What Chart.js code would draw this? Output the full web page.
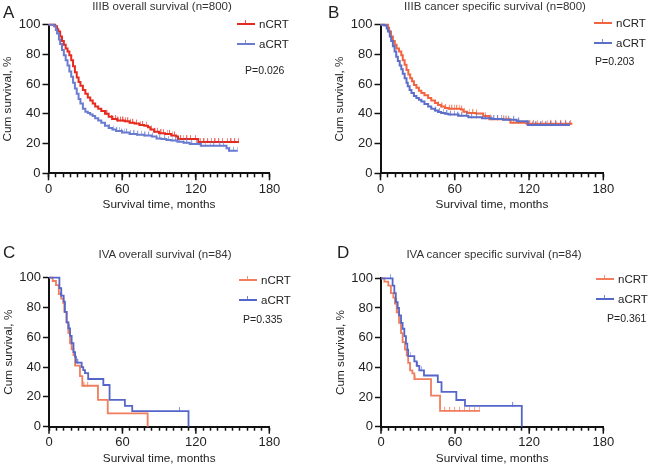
<!DOCTYPE html>
<html><head><meta charset="utf-8">
<script src="https://cdn.jsdelivr.net/npm/chart.js@4.4.1/dist/chart.umd.min.js"></script>
<style>
html,body{margin:0;padding:0;background:#fff}
body{width:649px;height:467px;overflow:hidden;position:relative;font-family:"Liberation Sans",Arial,Helvetica,sans-serif;color:#222}
canvas{position:absolute}
.t{position:absolute;white-space:nowrap;line-height:1}
.c{transform:translate(-50%,-50%)}
.v{transform:translateY(-50%)}
.letter{font-size:17px}
.title{font-size:11.5px;color:#333}
.p{font-size:10.5px}
.leg{position:absolute;transform:translateY(-50%);display:flex;align-items:center;font-size:11.5px;white-space:nowrap}
.leg .ln{position:relative;width:18px;height:2px;margin-right:4px}
.leg .ln::after{content:"";position:absolute;left:8px;top:-3px;width:1px;height:4px;background:inherit;opacity:.8}
</style></head><body>
<canvas id="cA" width="325" height="215" style="left:0;top:0"></canvas>
<canvas id="cB" width="324" height="215" style="left:325px;top:0"></canvas>
<canvas id="cC" width="325" height="237" style="left:0;top:230px"></canvas>
<canvas id="cD" width="324" height="237" style="left:325px;top:230px"></canvas>

<div class="t letter" style="left:3px;top:4px">A</div>
<div class="t title c" style="left:162px;top:7px">IIIB overall survival (n=800)</div>
<div class="leg" style="left:237px;top:24px"><span class="ln" style="background:#e62a1f"></span>nCRT</div>
<div class="leg" style="left:237px;top:44px"><span class="ln" style="background:#6a7cd0"></span>aCRT</div>
<div class="t p v" style="left:245px;top:70px">P=0.026</div>

<div class="t letter" style="left:328px;top:4px">B</div>
<div class="t title c" style="left:495px;top:7px">IIIB cancer specific survival (n=800)</div>
<div class="leg" style="left:594px;top:23px"><span class="ln" style="background:#f2643f"></span>nCRT</div>
<div class="leg" style="left:594px;top:43px"><span class="ln" style="background:#5d6ec8"></span>aCRT</div>
<div class="t p v" style="left:595px;top:61px">P=0.203</div>

<div class="t letter" style="left:3px;top:244px">C</div>
<div class="t title c" style="left:165px;top:255px">IVA overall survival (n=84)</div>
<div class="leg" style="left:239px;top:280px"><span class="ln" style="background:#f07e5e"></span>nCRT</div>
<div class="leg" style="left:239px;top:300px"><span class="ln" style="background:#5566c9"></span>aCRT</div>
<div class="t p v" style="left:243px;top:319px">P=0.335</div>

<div class="t letter" style="left:337px;top:244px">D</div>
<div class="t title c" style="left:494px;top:255px">IVA cancer specific survival (n=84)</div>
<div class="leg" style="left:596px;top:279px"><span class="ln" style="background:#f07e5e"></span>nCRT</div>
<div class="leg" style="left:596px;top:299px"><span class="ln" style="background:#5566c9"></span>aCRT</div>
<div class="t p v" style="left:607px;top:318px">P=0.361</div>

<script>
// ---- tick labels ----
const xTickLabels = [0, 60, 120, 180];
const yTickLabels = [0, 20, 40, 60, 80, 100];
const seriesNames = ['nCRT', 'aCRT'];

// ---- Panel A: IIIB overall survival ----
const A_nCRT_time = [0,4,5.5,7,8,9.5,11,12.5,14,15.5,17,18.5,20,21.5,23,24.5,26,28,30,32,34,36,38,40.5,43,46,49,52,56,62,66,70,74,78,81,83,86,90,95,100,104,105.5,122,155];
const A_nCRT_surv = [100,100,99,97,95.5,92,89,86.5,84,82,79.5,76,72,68,64.5,61.5,59,56,53.5,51,49,47,45,43.5,42,40,38,36.5,35.5,35,34,33.5,32.5,32,31,29.5,28,27,26.5,25.5,24.7,23,21,21];
const A_nCRT_cens = [48,52,55,57,59,61,63,65,67,69,72,75,77,80,84,87,89,92,94,97,99,101,103,108,110,113,116,120,124,127,130,133,136,139,142,146,149,152,155];
const A_aCRT_time = [0,3,4.5,6,7,8.5,9.5,11,12.5,14,15.5,17,18.5,20,21.5,23,24.5,26,28,30,32,34,36,38,40.5,43,46,49,52,55,60,66,72,78,84,88,92,96,100,105,110,115,124,145,147,154];
const A_aCRT_surv = [100,100,99,96.5,94,90,87,83,79.5,76,72.5,68.5,65,61,57,53.5,50,47,43.5,41.5,40.5,39.5,38.5,37,35.5,34,32,30.5,29.5,28.5,27.5,26.5,26,25.5,24.7,23.5,23,22.4,22,21.3,20.5,19.7,18.6,16.8,15.2,15.2];
const A_aCRT_cens = [50,53,56,58,60,62,64,67,70,73,76,79,82,85,88,91,95,98,101,104,107,110,113,117,121,125,128,132,135,140,143,148,151,154];

// ---- Panel B: IIIB cancer specific survival ----
const B_nCRT_time = [0,4.5,6,7,8.5,10,11.5,13,15,16.8,18,19.5,21,22.5,24,25.5,27,29,31,33,35.5,38.5,41,44,46.5,49,52,55,65,67,70,77,83,88,105,118,155];
const B_nCRT_surv = [100,100,98,95.5,92,89,86.5,84,82,79.5,76,73,69.5,66.5,64,62,59.5,57.5,55.5,54,52.5,50.7,49,47.3,46,45,44,43.5,43,41.5,40.6,40.3,38.5,36.3,34,33.3,33.3];
const B_nCRT_cens = [47,50,53,56,58,60,62,64,66,68,72,75,78,85,90,95,100,102,108,112,118,121,124,127,131,135,138,142,146,150,154];
const B_aCRT_time = [0,3,5,6,7.5,8.6,10,11.4,12.7,14,15.5,16.8,18,19.5,21,22,23.5,25,27,29,31,33,35.5,38.5,41,44,46.5,49,52,55,63,71,82,90,99,110,119,153];
const B_aCRT_surv = [100,99.5,97.5,95.5,92,89,85.5,82,78.5,75.5,72.5,70,67,64,61,58.5,56,54,52,50.7,49.5,48.4,46.7,45,43.5,42.2,41.3,40.6,40,39.5,38.8,37.7,37,36.5,36,35,32.5,32.5];
const B_aCRT_cens = [45,48,51,54,57,60,63,66,70,74,78,85,89,92,95,98,101,104,108,112,120,123,126,130,134,138,142,146,150,153];

// ---- Panel C: IVA overall survival ----
const C_nCRT_time = [0,3,5.7,8,10,11.7,12.5,14.4,15.8,17.2,18.5,20,21.3,25.3,27.2,40,48,80.6];
const C_nCRT_surv = [100,97.8,95,89,86,83,77,70,63,56,52,48,41,34,27.5,18,9,0];
const C_nCRT_cens = [13,16,19,29,32];
const C_aCRT_time = [0,8.5,10,12,13,14.4,15.8,17.2,18.5,20,21.3,22,26.7,28,29.4,32,44.4,49.5,62,68,114];
const C_aCRT_surv = [100,93,88,84,77,70,66,61,56,50,47,43,40,38,36,32,28,18,14,10.5,0];
const C_aCRT_cens = [10,12,17,24,27,107];

// ---- Panel D: IVA cancer specific survival ----
const D_nCRT_time = [0,2.7,5.9,8,10,11.3,12.7,14.6,16.2,17.5,19.4,20.8,22,23.5,25.4,27,40.5,47.8,80];
const D_nCRT_surv = [100,97.8,95,90,87,83,77,70,63,57,52,48,43,38,36,32,21,10.7,10.7];
const D_nCRT_cens = [14,18,24,28,52,56,60,64,68,72,76,80];
const D_aCRT_time = [0,9.4,10.8,12,13.5,14.6,16.2,17.5,18.9,20.2,21.3,22,27,28.9,31,34.8,46,49,61,68,114];
const D_aCRT_surv = [100,95,90,84,80,75,70,66,61,56,52,47.5,44,41,38,34.5,30,23.5,18,14,0];
const D_aCRT_cens = [8,13,17,24,30,33,107];

// ---- colours ----
const colors = {
  A: ['#e62a1f', '#6a7cd0'],
  B: ['#f2643f', '#5d6ec8'],
  C: ['#f07e5e', '#5566c9'],
  D: ['#f07e5e', '#5566c9']
};

Chart.defaults.font.family = '"Liberation Sans", Arial, Helvetica, sans-serif';
Chart.defaults.color = '#222';

function survAt(ts, ss, t) {
  let v = ss[0];
  for (let i = 0; i < ts.length; i++) { if (ts[i] <= t) v = ss[i]; else break; }
  return v;
}
function hexA(hex, a) {
  const n = parseInt(hex.slice(1), 16);
  return `rgba(${n >> 16},${(n >> 8) & 255},${n & 255},${a})`;
}

// small upward censor tick (drawn as point image)
function censorImg(color) {
  const c = document.createElement('canvas');
  c.width = 2; c.height = 10;
  const g = c.getContext('2d');
  g.fillStyle = color;
  g.fillRect(0, 1, 1, 5);
  return c;
}

const majorTicks = {
  id: 'majorTicks',
  afterDraw(chart) {
    const ctx = chart.ctx, xs = chart.scales.x, b = chart.chartArea.bottom;
    ctx.save();
    ctx.strokeStyle = '#111';
    ctx.lineWidth = 1.5;
    xTickLabels.forEach(v => {
      const px = xs.getPixelForValue(v);
      ctx.beginPath(); ctx.moveTo(px, b); ctx.lineTo(px, b + 7); ctx.stroke();
    });
    ctx.restore();
  }
};

function makePanel(id, series, cols, geo) {
  const datasets = [];
  series.forEach((s, i) => {
    datasets.push({
      label: seriesNames[i],
      data: s.time.map((t, k) => ({ x: t, y: s.surv[k] })),
      borderColor: cols[i], borderWidth: geo.lw, stepped: true,
      pointRadius: 0, fill: false, clip: false, order: 2 - i
    });
    datasets.push({
      label: seriesNames[i] + ' censored',
      data: s.cens.map(t => ({ x: t, y: survAt(s.time, s.surv, t) })),
      showLine: false, pointStyle: censorImg(hexA(cols[i], 0.7)), pointRadius: 3,
      borderColor: cols[i], borderWidth: 0, clip: false, order: 2 - i
    });
  });
  new Chart(document.getElementById(id), {
    type: 'line',
    data: { datasets },
    plugins: [majorTicks],
    options: {
      responsive: false, animation: false, devicePixelRatio: 1,
      layout: { padding: { left: geo.pl, top: geo.pt, right: geo.pr, bottom: 0 } },
      plugins: { legend: { display: false }, tooltip: { enabled: false }, title: { display: false } },
      scales: {
        x: {
          type: 'linear', min: 0, max: 180,
          afterFit: s => { s.height = geo.hx; },
          ticks: { stepSize: 6, maxTicksLimit: 100, autoSkip: false, maxRotation: 0, padding: 4,
                   font: { size: 13 }, color: '#222',
                   callback: v => xTickLabels.includes(v) ? String(v) : '' },
          grid: { drawOnChartArea: false, tickLength: 4, tickWidth: 1.5, tickColor: '#111' },
          border: { display: true, color: '#111', width: 2 },
          title: { display: true, text: 'Survival time, months', font: { size: 11.8 }, color: '#222',
                   padding: { top: 0, bottom: geo.tpb } }
        },
        y: {
          type: 'linear', min: 0, max: 100,
          afterFit: s => { s.width = geo.wy; },
          ticks: { stepSize: 20, padding: 2, font: { size: 13 }, color: '#222',
                   callback: v => yTickLabels.includes(v) ? String(v) : '' },
          grid: { drawOnChartArea: false, tickLength: 6, tickWidth: 1.5, tickColor: '#111' },
          border: { display: true, color: '#111', width: 2 },
          title: { display: true, text: 'Cum survival, %', font: { size: 11.8 }, color: '#222',
                   padding: { top: 0, bottom: 0 } }
        }
      }
    }
  });
}

makePanel('cA', [
  { time: A_nCRT_time, surv: A_nCRT_surv, cens: A_nCRT_cens },
  { time: A_aCRT_time, surv: A_aCRT_surv, cens: A_aCRT_cens }
], colors.A, { pl: 1.1, wy: 47.4, pt: 24.7, pr: 55.5, hx: 41.7, tpb: 3, lw: 2 });

makePanel('cB', [
  { time: B_nCRT_time, surv: B_nCRT_surv, cens: B_nCRT_cens },
  { time: B_aCRT_time, surv: B_aCRT_surv, cens: B_aCRT_cens }
], colors.B, { pl: 8.1, wy: 47.4, pt: 24.7, pr: 45.7, hx: 41.7, tpb: 3, lw: 2 });

makePanel('cC', [
  { time: C_nCRT_time, surv: C_nCRT_surv, cens: C_nCRT_cens },
  { time: C_aCRT_time, surv: C_aCRT_surv, cens: C_aCRT_cens }
], colors.C, { pl: 1.6, wy: 47.4, pt: 47.7, pr: 55.7, hx: 40.3, tpb: 1, lw: 1.8 });

makePanel('cD', [
  { time: D_nCRT_time, surv: D_nCRT_surv, cens: D_nCRT_cens },
  { time: D_aCRT_time, surv: D_aCRT_surv, cens: D_aCRT_cens }
], colors.D, { pl: 8.6, wy: 47.4, pt: 48.3, pr: 45.7, hx: 40.3, tpb: 1, lw: 1.8 });
</script>
</body></html>
